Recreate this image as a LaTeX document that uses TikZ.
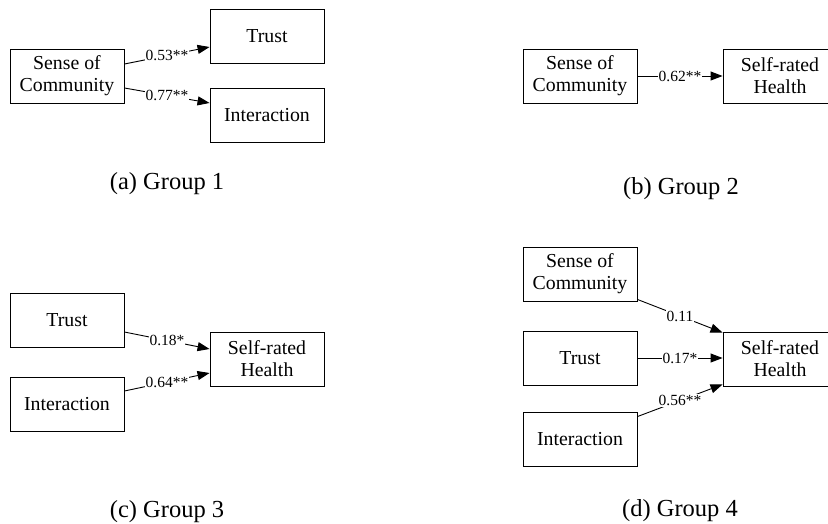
\documentclass[tikz,border=0pt]{standalone}
\usepackage{fontspec}
\setmainfont{Liberation Serif}
\usetikzlibrary{arrows.meta}

\begin{document}
\begin{tikzpicture}[x=1pt, y=-1pt,
		box/.style={draw, line width=0.9pt, minimum width=114pt, minimum height=54pt, inner sep=0pt, align=center, font=\fontsize{19.8}{22}\selectfont},
		effect/.style={line width=0.9pt, -{Triangle[length=12pt,width=9pt]}},
		coef/.style={fill=white, inner sep=1pt, font=\fontsize{15.5}{17}\selectfont},
		caption/.style={anchor=base, font=\fontsize{24.5}{26}\selectfont}]
		%%%%% START %%%%%
		
		\clip (0, 0) rectangle (828, 523);
		
		% (a) Group 1
		\node[box] (soc1) at (67, 76) {Sense of\\Community};
		\node[box] (trust1) at (267, 36) {Trust};
		\node[box] (int1) at (267, 115) {Interaction};
		\draw[effect] ([yshift=12pt]soc1.east) -- node[coef] {0.53**} ([yshift=-11pt]trust1.west);
		\draw[effect] ([yshift=-12pt]soc1.east) -- node[coef] {0.77**} ([yshift=12pt]int1.west);
		\node[caption] (capa) at (167, 189) {(a) Group 1};
		
		% (b) Group 2
		\node[box] (soc2) at (580, 76) {Sense of\\Community};
		\node[box] (srh2) at (780, 76) {Self-rated\\Health};
		\draw[effect] (soc2.east) -- node[coef] {0.62**} (srh2.west);
		\node[caption] (capb) at (681, 194) {(b) Group 2};
		
		% (c) Group 3
		\node[box] (trust3) at (67, 320) {Trust};
		\node[box] (int3) at (67, 404) {Interaction};
		\node[box] (srh3) at (267, 359) {Self-rated\\Health};
		\draw[effect] ([yshift=-12pt]trust3.east) -- node[coef] {0.18*} ([yshift=10pt]srh3.west);
		\draw[effect] ([yshift=13pt]int3.east) -- node[coef] {0.64**} ([yshift=-14pt]srh3.west);
		\node[caption] (capc) at (167, 517) {(c) Group 3};
		
		% (d) Group 4
		\node[box] (soc4) at (580, 274) {Sense of\\Community};
		\node[box] (trust4) at (580, 358) {Trust};
		\node[box] (int4) at (580, 439) {Interaction};
		\node[box] (srh4) at (780, 359) {Self-rated\\Health};
		\draw[effect] ([yshift=2pt]soc4.south east) -- node[coef] {0.11} ([yshift=-1pt]srh4.north west);
		\draw[effect] (trust4.east) -- node[coef] {0.17*} (trust4.east -| srh4.west);
		\draw[effect] ([yshift=-5pt]int4.north east) -- node[coef] {0.56**} ([yshift=2pt]srh4.south west);
		\node[caption] (capd) at (680, 516) {(d) Group 4};
		
		%%%%% END %%%%%
	\end{tikzpicture}
\end{document}
